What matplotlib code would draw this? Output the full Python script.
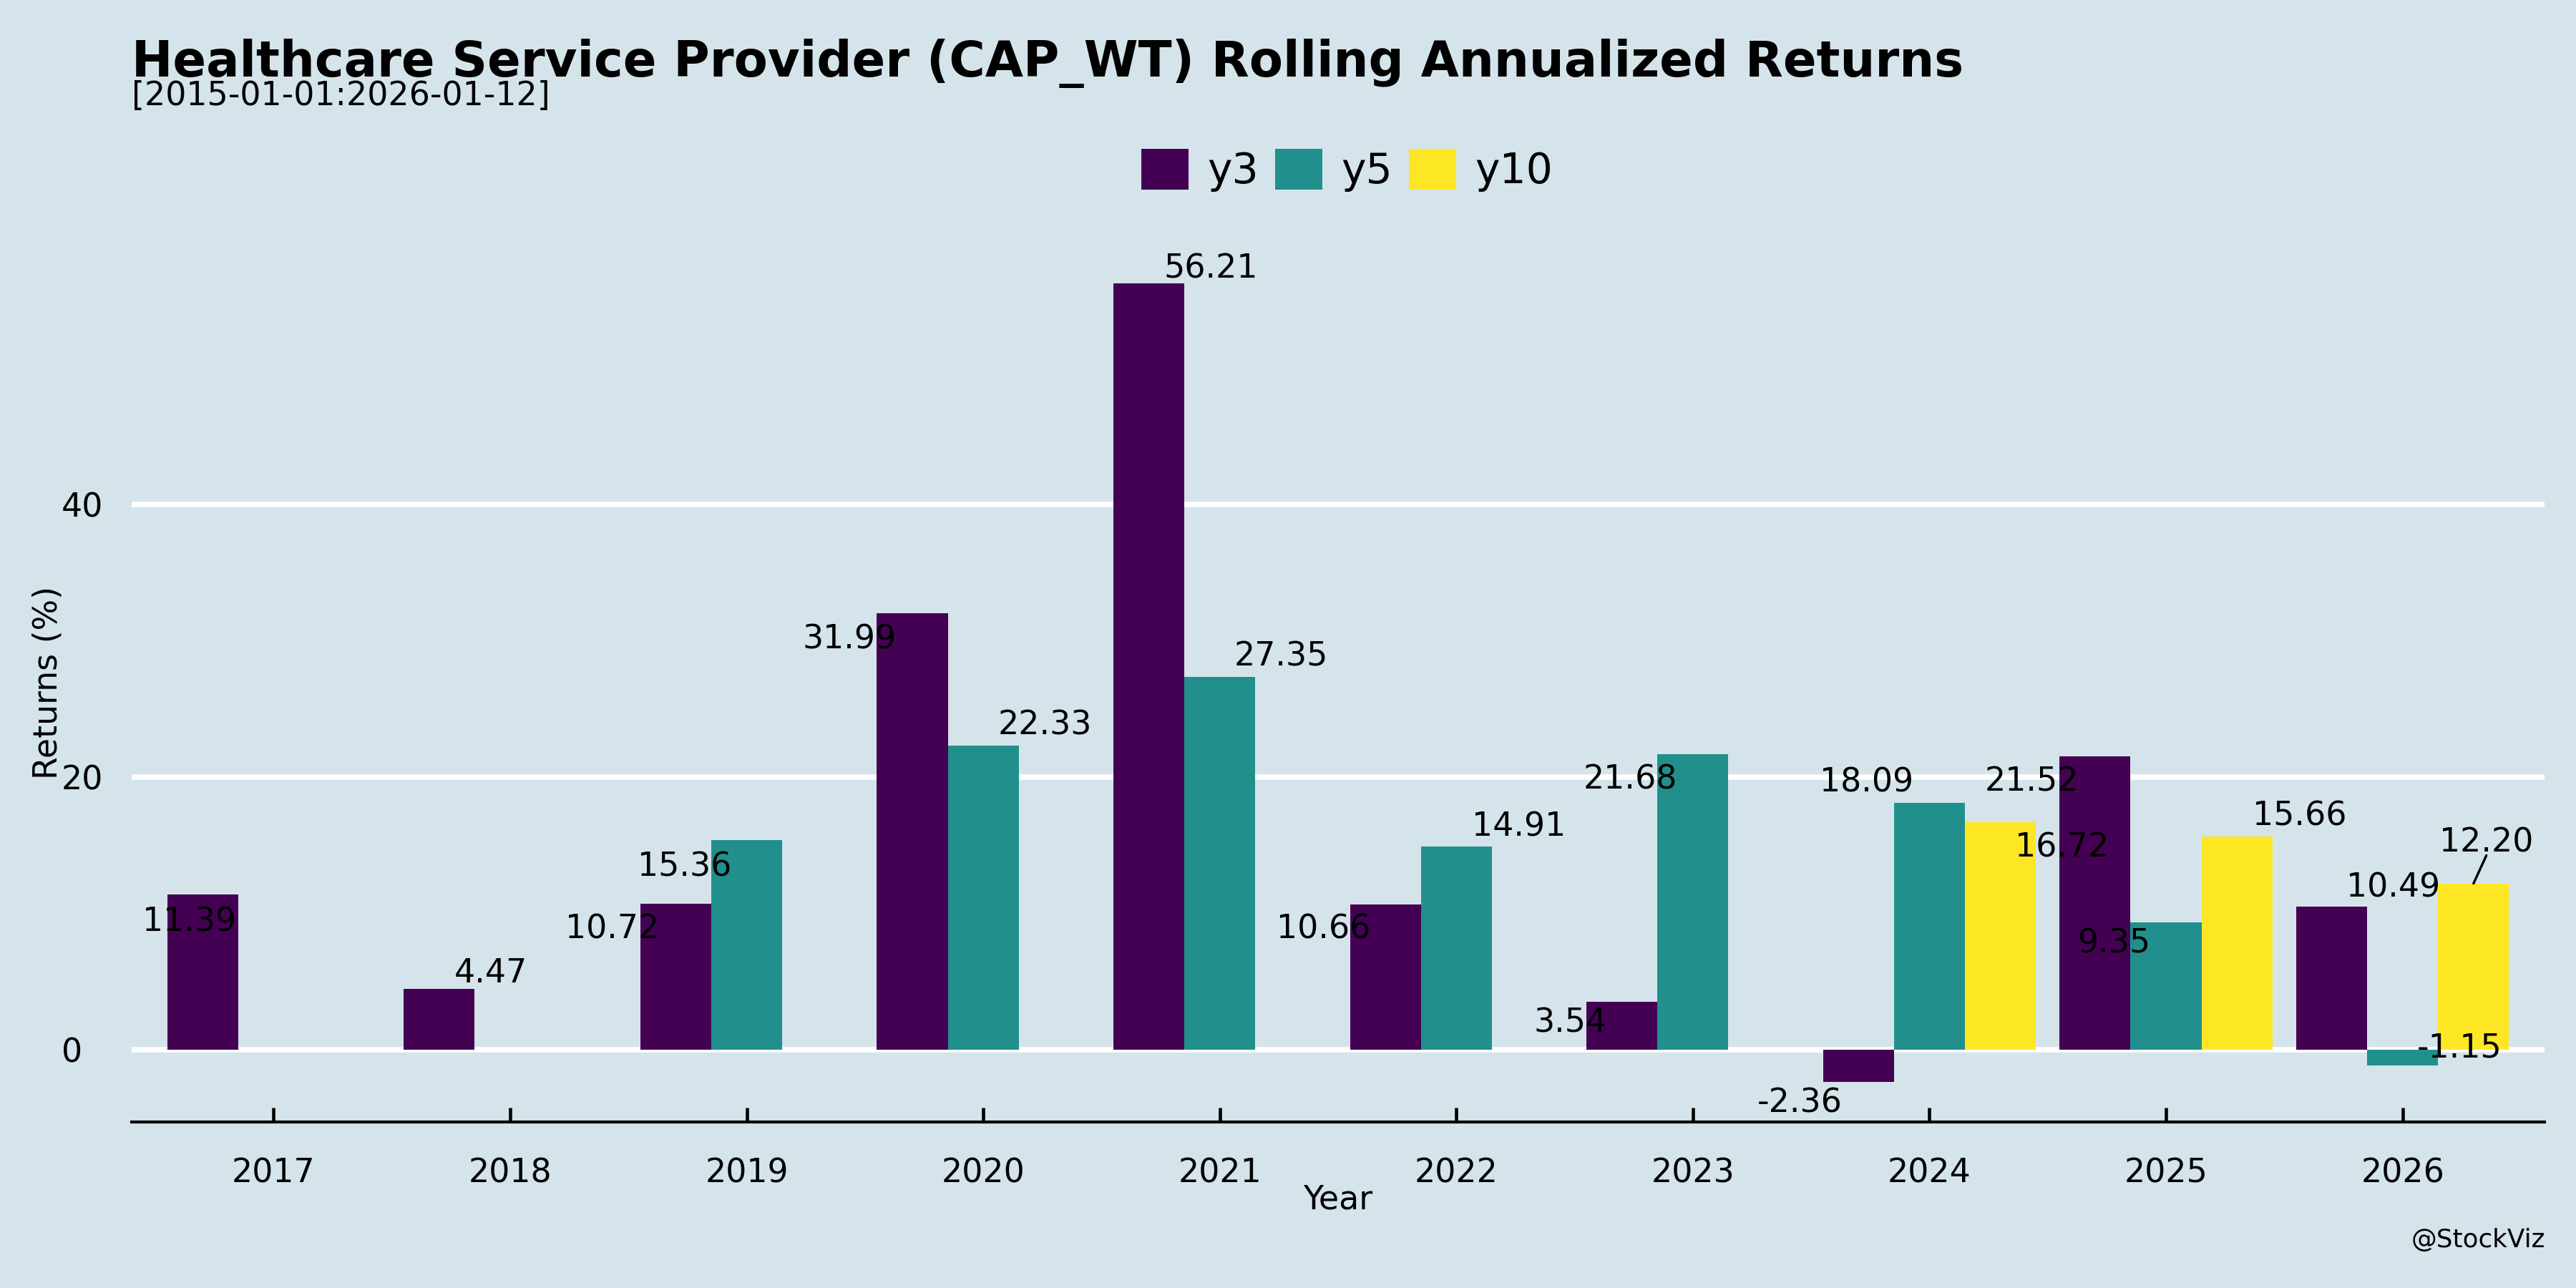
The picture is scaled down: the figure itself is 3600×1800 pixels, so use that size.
import numpy as np
import matplotlib.pyplot as plt

years = ["2017", "2018", "2019", "2020", "2021", "2022", "2023", "2024", "2025", "2026"]
y3 = [11.39, 4.47, 10.72, 31.99, 56.21, 10.66, 3.54, -2.36, 21.52, 10.49]
y5 = [np.nan, np.nan, 15.36, 22.33, 27.35, 14.91, 21.68, 18.09, 9.35, -1.15]
y10 = [np.nan, np.nan, np.nan, np.nan, np.nan, np.nan, np.nan, 16.72, 15.66, 12.20]

series = {"y3": y3, "y5": y5, "y10": y10}
colors = {"y3": "#440154", "y5": "#21908C", "y10": "#FDE725"}

# label placement (offset of label centre from bar end, in points)
label_offsets = {
    "y3": [(-4.4, -8.4), (17.2, 6.1), (-21.2, -7.7), (-21.0, -7.7), (20.8, 5.8),
           (-20.8, -7.5), (-17.3, -6.2), (-19.8, -6.1), (-21.3, -7.6), (20.7, 7.3)],
    "y5": [None, None, (-20.8, -7.9), (20.6, 7.6), (20.6, 7.6),
           (20.9, 7.5), (-21.0, -7.7), (-21.1, 7.8), (-17.6, -6.2), (19.1, 6.9)],
    "y10": [None] * 7 + [(20.7, -7.7), (21.1, 7.7), (4.4, 14.7)],
}
# repelled label gets a segment back to its bar (start offset in points)
connector = {("y10", 9): (4.3, 9.4)}

bg = "#D5E4EB"
W, H = 3600, 1800

fig = plt.figure(figsize=(12, 6), dpi=300, facecolor=bg)
ax = fig.add_axes([184 / W, 1 - 1568 / H, (3556 - 184) / W, (1568 - 340) / H])
ax.set_facecolor(bg)

x = np.arange(len(years))
width = 0.3
offsets = {"y3": -0.3, "y5": 0.0, "y10": 0.3}

for name, vals in series.items():
    vals = np.array(vals, dtype=float)
    ok = ~np.isnan(vals)
    ax.bar(x[ok] + offsets[name], vals[ok], width=width, color=colors[name],
           label=name, zorder=3, linewidth=0)
    for i in np.where(ok)[0]:
        dx, dy = label_offsets[name][i]
        anchor = (x[i] + offsets[name], vals[i])
        ax.annotate(f"{vals[i]:.2f}", xy=anchor,
                    xytext=(dx, dy - 4.0), textcoords="offset points",
                    ha="center", va="baseline", fontsize=11, color="black",
                    zorder=4)
        if (name, i) in connector:
            ax.annotate("", xy=anchor, xytext=connector[(name, i)],
                        textcoords="offset points",
                        arrowprops=dict(arrowstyle="-", color="black", lw=0.8,
                                        shrinkA=0, shrinkB=0), zorder=4)

allv = np.concatenate([np.array(v, dtype=float) for v in series.values()])
lo, hi = min(np.nanmin(allv), 0), max(np.nanmax(allv), 0)
pad = 0.05 * (hi - lo)
ax.set_ylim(lo - pad, hi + pad)
ax.set_xlim(-0.6, len(years) - 0.4)

ax.set_yticks([0, 20, 40])
ax.set_yticklabels(["0", "20", "40"])
ax.set_xticks(x)
ax.set_xticklabels(years)
ax.grid(axis="y", color="white", linewidth=1.8, zorder=0)
ax.grid(axis="x", visible=False)
ax.set_axisbelow(True)

for s in ["top", "right", "left"]:
    ax.spines[s].set_visible(False)
ax.spines["bottom"].set_color("black")
ax.spines["bottom"].set_linewidth(1.0)

ax.tick_params(axis="x", direction="in", length=4.8, width=1.1, pad=11.8,
               labelsize=11, colors="black")
ax.tick_params(axis="y", length=0, pad=23.5, labelsize=11, colors="black")
for lbl in ax.get_yticklabels():
    lbl.set_horizontalalignment("left")

fig.text(184 / W, 1 - 107 / H,
         "Healthcare Service Provider (CAP_WT) Rolling Annualized Returns",
         fontsize=16.5, fontweight="bold", ha="left", va="baseline")
fig.text(184 / W, 1 - 147.5 / H, "[2015-01-01:2026-01-12]",
         fontsize=11, ha="left", va="baseline")
fig.text(1870 / W, 1 - 1690 / H, "Year", fontsize=11, ha="center", va="baseline")
fig.text(80 / W, 1 - 954 / H, "Returns (%)", fontsize=11, rotation=90,
         rotation_mode="anchor", ha="center", va="baseline")
fig.text(3557 / W, 1 - 1742.7 / H, "@StockViz", fontsize=8.6, ha="right", va="baseline")

fig.legend(loc="center", bbox_to_anchor=(1882.5 / W, 1 - 238 / H), ncol=3,
           frameon=False, fontsize=14, borderpad=0, handlelength=1.13,
           handleheight=1.13, handletextpad=0.45, columnspacing=0.4)

fig.savefig("out.png", dpi=300, facecolor=bg)
